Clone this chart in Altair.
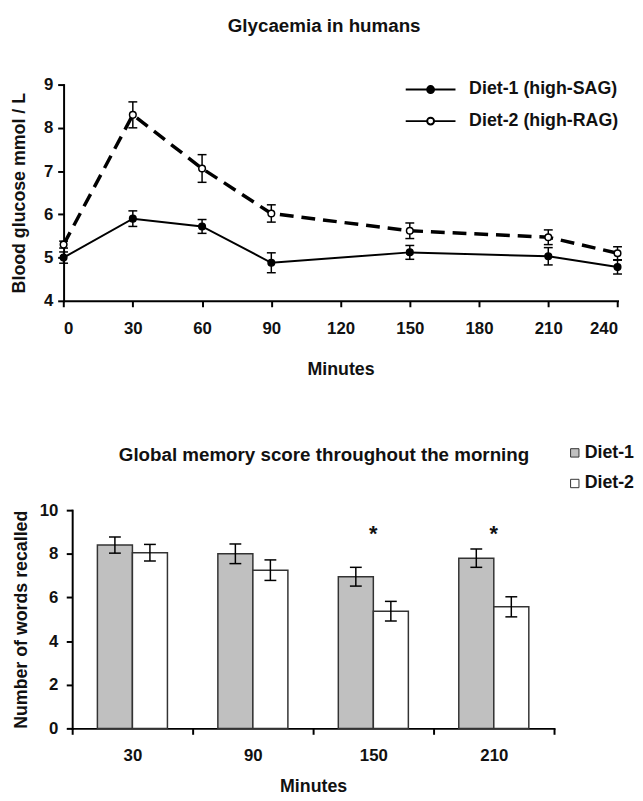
import altair as alt
import pandas as pd

# ---------------- data: glycaemia ----------------
minutes = [0, 30, 60, 90, 150, 210, 240]
diet1_glucose = [5.0, 5.9, 5.72, 4.88, 5.12, 5.03, 4.78]
diet1_glucose_err = [0.13, 0.18, 0.16, 0.23, 0.16, 0.2, 0.16]
diet2_glucose = [5.3, 8.3, 7.06, 6.02, 5.62, 5.47, 5.1]
diet2_glucose_err = [0.08, 0.3, 0.32, 0.2, 0.18, 0.17, 0.15]
glyc_series = ["Diet-1 (high-SAG)", "Diet-2 (high-RAG)"]
glyc_x_ticks = [0, 30, 60, 90, 120, 150, 180, 210, 240]
glyc_y_ticks = [4, 5, 6, 7, 8, 9]

# ---------------- data: memory ----------------
memory_minutes = ["30", "90", "150", "210"]
diet1_words = [8.4, 8.0, 6.95, 7.8]
diet1_words_err = [0.37, 0.45, 0.43, 0.42]
diet2_words = [8.05, 7.25, 5.37, 5.57]
diet2_words_err = [0.38, 0.47, 0.45, 0.46]
significance = ["", "", "*", "*"]
star_level = [8.9, 8.9, 8.9, 8.9]
memory_series = ["Diet-1", "Diet-2"]
memory_y_ticks = [0, 2, 4, 6, 8, 10]

FONT = "Liberation Sans"
TXT = "#111111"
LABEL_FS = 17
TITLE_FS = 18
HEAD_FS = 19
LEG_FS = 18

# ---------- tables ----------
glyc_rows = []
for s, vals, errs in [(glyc_series[0], diet1_glucose, diet1_glucose_err),
                      (glyc_series[1], diet2_glucose, diet2_glucose_err)]:
    for m, v, e in zip(minutes, vals, errs):
        glyc_rows.append({"minute": m, "series": s, "value": v, "lo": v - e, "hi": v + e})
glyc = pd.DataFrame(glyc_rows)

mem_rows = []
for s, vals, errs in [(memory_series[0], diet1_words, diet1_words_err),
                      (memory_series[1], diet2_words, diet2_words_err)]:
    for m, v, e in zip(memory_minutes, vals, errs):
        mem_rows.append({"minute": m, "series": s, "value": v, "lo": v - e, "hi": v + e})
mem = pd.DataFrame(mem_rows)
stars = pd.DataFrame({"minute": memory_minutes, "star": significance, "level": star_level})
stars = stars[stars["star"] != ""]

# ---------- top chart ----------
SHIFT = 8.7
TOP_W = 552.3
xg = alt.X("minute:Q",
           scale=alt.Scale(domain=[0, 240], nice=False, zero=False, range=[-SHIFT, TOP_W]),
           axis=alt.Axis(values=glyc_x_ticks, title="Minutes", tickSize=6,
                         labelPadding=14, titlePadding=24.5, format="d"))
yg_scale = alt.Scale(domain=[4, 9], nice=False, zero=False)
yg_axis = alt.Axis(values=glyc_y_ticks, title="Blood glucose mmol / L", tickSize=6,
                   labelPadding=5, titlePadding=15.5, offset=SHIFT)

base_g = alt.Chart(glyc)
line1 = base_g.transform_filter(alt.datum.series == glyc_series[0]).mark_line(
    color="black", strokeWidth=2).encode(x=xg, y=alt.Y("value:Q", scale=yg_scale, axis=yg_axis))
line2 = base_g.transform_filter(alt.datum.series == glyc_series[1]).mark_line(
    color="black", strokeWidth=3.5, strokeDash=[14, 8]).encode(
    x=xg, y=alt.Y("value:Q", scale=yg_scale, axis=yg_axis))
err_g = base_g.mark_rule(color="black", strokeWidth=1.5).encode(
    x=xg, y=alt.Y("lo:Q", scale=yg_scale, axis=yg_axis), y2="hi:Q")
caps_g = base_g.transform_fold(["lo", "hi"], as_=["end", "bound"]).mark_point(
    shape="M-1,0H1", size=81, stroke="black", strokeWidth=1.5, filled=False, opacity=1).encode(
    x=xg, y=alt.Y("bound:Q", scale=yg_scale, axis=yg_axis))
LEG_PATH = "M-3.6,0H-0.5M0.5,0H3.6M0.5,0A0.5,0.5,0,1,1,-0.5,0A0.5,0.5,0,1,1,0.5,0Z"
pts_g = base_g.mark_point(shape="circle", size=45, stroke="black", strokeWidth=1.5,
                          filled=True, opacity=1).encode(
    x=xg, y=alt.Y("value:Q", scale=yg_scale, axis=yg_axis),
    fill=alt.Fill("series:N", scale=alt.Scale(domain=glyc_series, range=["black", "white"]),
                  legend=alt.Legend(title=None, orient="none", legendX=354, legendY=-4,
                                    symbolType=LEG_PATH, symbolSize=196,
                                    symbolStrokeColor="black", symbolStrokeWidth=2,
                                    symbolFillColor="black",
                                    labelFontSize=LEG_FS, labelFont=FONT, labelFontWeight="bold",
                                    labelColor=TXT, labelOffset=30, rowPadding=14,
                                    padding=0, symbolOffset=0, labelLimit=300)))

top = alt.layer(line1, line2, err_g, caps_g, pts_g).properties(
    width=TOP_W, height=219,
    title=alt.TitleParams("Glycaemia in humans", offset=40.25, anchor="middle",
                          frame="bounds", dx=6,
                          fontSize=HEAD_FS, font=FONT, fontWeight="bold", color=TXT))

# ---------- bottom chart ----------
xm = alt.X("minute:N", sort=memory_minutes,
           scale=alt.Scale(domain=memory_minutes, paddingInner=0, paddingOuter=0),
           axis=alt.Axis(title="Minutes", labelAngle=0, tickBand="extent", tickSize=6,
                         labelPadding=13.9, titlePadding=14.2))
xo = alt.XOffset("series:N", scale=alt.Scale(domain=memory_series, paddingOuter=0.72, paddingInner=0))
ym_scale = alt.Scale(domain=[0, 10], nice=False)
ym_axis = alt.Axis(values=memory_y_ticks, title="Number of words recalled", tickSize=6,
                   labelPadding=8.5, titlePadding=8.5)

base_m = alt.Chart(mem)
bars = base_m.mark_bar(stroke="#333333", strokeWidth=1.5).encode(
    x=xm, xOffset=xo, y=alt.Y("value:Q", scale=ym_scale, axis=ym_axis),
    fill=alt.Fill("series:N", scale=alt.Scale(domain=memory_series, range=["#c0c0c0", "white"]),
                  legend=alt.Legend(title=None, orient="none", legendX=500, legendY=-67,
                                    symbolType="square", symbolSize=72,
                                    symbolStrokeColor="#333333", symbolStrokeWidth=1,
                                    labelFontSize=LEG_FS, labelFont=FONT, labelFontWeight="bold",
                                    labelColor=TXT, labelOffset=1, rowPadding=13,
                                    padding=0, symbolOffset=0)))
err_m = base_m.mark_rule(color="black", strokeWidth=1.5).encode(
    x=xm, xOffset=xo, y=alt.Y("lo:Q", scale=ym_scale, axis=ym_axis), y2="hi:Q")
caps_m = base_m.transform_fold(["lo", "hi"], as_=["end", "bound"]).mark_point(
    shape="M-1,0H1", size=144, stroke="black", strokeWidth=1.5, filled=False, opacity=1).encode(
    x=xm, xOffset=xo, y=alt.Y("bound:Q", scale=ym_scale, axis=ym_axis))
star_txt = alt.Chart(stars).mark_text(fontSize=22, font=FONT, fontWeight="bold", color=TXT).encode(
    x=xm, y=alt.Y("level:Q", scale=ym_scale, axis=ym_axis), text="star:N")

bottom = alt.layer(bars, err_m, caps_m, star_txt).properties(
    width=488, height=221,
    title=alt.TitleParams("Global memory score throughout the morning", offset=-21,
                          anchor="middle", frame="bounds",
                          fontSize=HEAD_FS, font=FONT, fontWeight="bold", color=TXT))

chart = alt.vconcat(top, bottom, spacing=66).resolve_scale(
    x="independent", y="independent", fill="independent").resolve_legend(
    fill="independent").properties(
    padding={"left": 2, "top": 3.5, "right": 0, "bottom": 0}
).configure(font=FONT).configure_view(stroke=None).configure_axis(
    domainColor="black", domainWidth=2, tickColor="black", tickWidth=2,
    labelFont=FONT, labelFontSize=LABEL_FS, labelFontWeight="bold", labelColor=TXT,
    titleFont=FONT, titleFontSize=TITLE_FS, titleFontWeight="bold", titleColor=TXT,
    grid=False, domainCap="square")

chart.save("out.html", embed_options={"renderer": "svg", "actions": False})
